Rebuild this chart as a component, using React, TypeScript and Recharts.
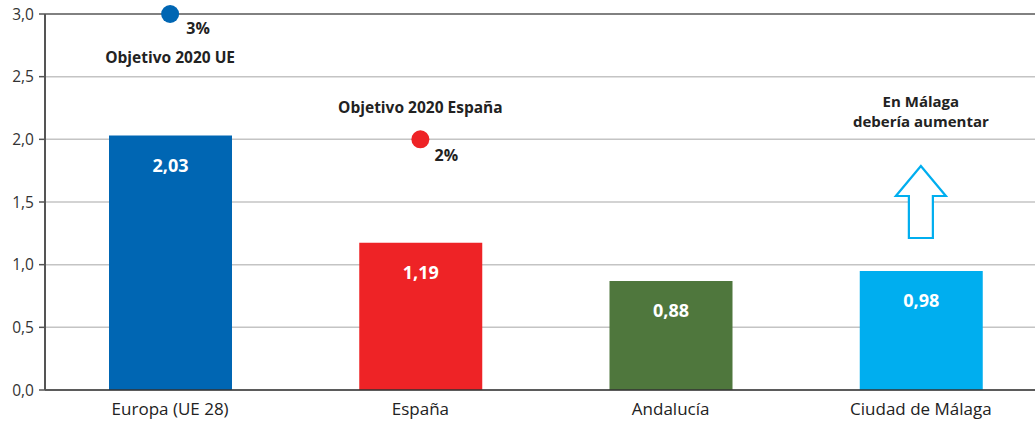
import { ComposedChart, Bar, XAxis, YAxis, CartesianGrid, ReferenceDot, ReferenceLine, LabelList, Cell } from 'recharts';

const categories = ['Europa (UE 28)', 'España', 'Andalucía', 'Ciudad de Málaga'];
const barValues = [2.03, 1.175, 0.87, 0.95];
const valueLabels = ['2,03', '1,19', '0,88', '0,98'];
const barColors = ['#0066b3', '#ee2326', '#4f773d', '#00aeef'];
const yTicks = [0, 0.5, 1, 1.5, 2, 2.5, 3];

const targetCategories = ['Europa (UE 28)', 'España'];
const targetValues = [3, 2];
const targetPcts = ['3%', '2%'];
const targetTitles = ['Objetivo 2020 UE', 'Objetivo 2020 España'];
const targetColors = ['#0066b3', '#ee2326'];

const malagaNote = ['En Málaga', 'debería aumentar'];
const arrowValue = 1.5;

const FONT = '"Open Sans", sans-serif';
const TEXT = '#222';

const data = categories.map((name, i) => ({ name, value: barValues[i], label: valueLabels[i] }));

function TargetShape({ cx, cy, fill, pct, title, titleDy, pctDx, pctDy }: any) {
  return (
    <g>
      <circle cx={cx} cy={cy} r={9} fill={fill} />
      <text x={cx + pctDx} y={cy + pctDy} textAnchor="middle" dominantBaseline="central"
        fontFamily={FONT} fontWeight={700} fontSize={16} fill={TEXT}>{pct}</text>
      <text x={cx} y={cy + titleDy} textAnchor="middle" dominantBaseline="central"
        fontFamily={FONT} fontWeight={700} fontSize={15.5} fill={TEXT}>{title}</text>
    </g>
  );
}

function ArrowShape({ cx, cy }: any) {
  const pts = [
    [0, -36], [25, -6], [12, -6], [12, 36], [-12, 36], [-12, -6], [-25, -6],
  ].map(([dx, dy]) => `${cx + dx},${cy + dy}`).join(' ');
  return (
    <g>
      <polygon points={pts} fill="#fff" stroke="#00aeef" strokeWidth={2.2} />
      {malagaNote.map((t, i) => (
        <text key={t} x={cx} y={cy - 101 + i * 20} textAnchor="middle" dominantBaseline="central"
          fontFamily={FONT} fontWeight={700} fontSize={15} fill={TEXT}>{t}</text>
      ))}
    </g>
  );
}

function ValueLabel({ x, y, width, value }: any) {
  return (
    <text x={x + width / 2} y={y + 29} textAnchor="middle" dominantBaseline="central"
      fontFamily={FONT} fontWeight={700} fontSize={18} fill="#fff">{value}</text>
  );
}

export default function App() {
  return (
    <div style={{ position: 'absolute', left: 0, top: 0, width: 1035, height: 425, overflow: 'hidden', background: '#fff' }}>
      <ComposedChart width={1046} height={425} data={data} margin={{ top: 14, right: 0, bottom: 0, left: 0 }}>
        <CartesianGrid vertical={false} stroke="#c4c4c4" strokeWidth={1.5} />
        <XAxis dataKey="name" height={35} tickLine={false} axisLine={{ stroke: '#333', strokeWidth: 1.5 }}
          tick={{ fontFamily: FONT, fontSize: 17, fill: TEXT }} tickMargin={7} />
        <YAxis type="number" domain={[0, 3]} ticks={yTicks} width={45} interval={0}
          tickFormatter={(v: number) => v.toFixed(1).replace('.', ',')}
          axisLine={{ stroke: '#555', strokeWidth: 2 }} tickLine={{ stroke: '#555', strokeWidth: 1.5 }} tickSize={6}
          tickMargin={5} tick={{ fontFamily: FONT, fontSize: 15.5, fill: '#333' }} />
        <ReferenceLine y={3} stroke="#666" strokeWidth={1.5} />
        <Bar dataKey="value" barSize={123} isAnimationActive={false}>
          {data.map((d, i) => <Cell key={d.name} fill={barColors[i]} />)}
          <LabelList dataKey="label" content={<ValueLabel />} />
        </Bar>
        <ReferenceDot x={targetCategories[0]} y={targetValues[0]} ifOverflow="visible"
          shape={(p: any) => <TargetShape {...p} fill={targetColors[0]} pct={targetPcts[0]} title={targetTitles[0]} titleDy={43} pctDx={28} pctDy={14} />} />
        <ReferenceDot x={targetCategories[1]} y={targetValues[1]} ifOverflow="visible"
          shape={(p: any) => <TargetShape {...p} fill={targetColors[1]} pct={targetPcts[1]} title={targetTitles[1]} titleDy={-32} pctDx={26} pctDy={16} />} />
        <ReferenceDot x={categories[3]} y={arrowValue} ifOverflow="visible" shape={(p: any) => <ArrowShape {...p} />} />
      </ComposedChart>
    </div>
  );
}
